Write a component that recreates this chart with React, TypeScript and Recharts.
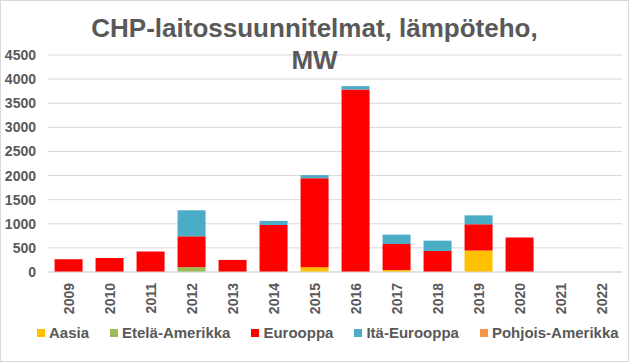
import { Bar, BarChart, CartesianGrid, XAxis, YAxis } from "recharts";

const years = ["2009", "2010", "2011", "2012", "2013", "2014", "2015", "2016", "2017", "2018", "2019", "2020", "2021", "2022"];
const aasia = [0, 0, 0, 0, 0, 0, 100, 0, 40, 0, 445, 0, 0, 0];
const etelaAmerikka = [0, 0, 0, 100, 0, 0, 0, 0, 0, 0, 0, 0, 0, 0];
const eurooppa = [265, 290, 425, 640, 250, 975, 1845, 3785, 540, 435, 545, 715, 0, 0];
const itaEurooppa = [0, 0, 0, 540, 0, 85, 65, 70, 195, 215, 185, 0, 0, 0];
const pohjoisAmerikka = [0, 0, 0, 0, 0, 0, 0, 0, 0, 0, 0, 0, 0, 0];
const yTicks = [0, 500, 1000, 1500, 2000, 2500, 3000, 3500, 4000, 4500];

const series = [
  { key: "aasia", name: "Aasia", color: "#FFC000", values: aasia },
  { key: "etela", name: "Etelä-Amerikka", color: "#9BBB59", values: etelaAmerikka },
  { key: "eurooppa", name: "Eurooppa", color: "#FF0000", values: eurooppa },
  { key: "ita", name: "Itä-Eurooppa", color: "#4BACC6", values: itaEurooppa },
  { key: "pohjois", name: "Pohjois-Amerikka", color: "#F79646", values: pohjoisAmerikka },
];

const data = years.map((year, i) => {
  const row: Record<string, string | number> = { year };
  series.forEach((s) => {
    row[s.key] = s.values[i];
  });
  return row;
});

const textColor = "#595959";
const font = "'Liberation Sans', Arial, sans-serif";

function YearTick({ x, y, payload }: any) {
  return (
    <text
      x={x + 5}
      y={y + 3}
      transform={`rotate(-90, ${x + 5}, ${y + 3})`}
      textAnchor="end"
      fill={textColor}
      fontSize={14}
      fontWeight="bold"
      fontFamily={font}
    >
      {payload.value}
    </text>
  );
}

export default function App() {
  return (
    <div
      style={{
        position: "absolute",
        left: 0,
        top: 0,
        width: 627,
        height: 360,
        border: "1px solid #d9d9d9",
        background: "#fff",
        fontFamily: font,
      }}
    >
      <div
        style={{
          position: "absolute",
          left: 0,
          top: 11,
          width: 627,
          textAlign: "center",
          fontSize: 26,
          fontWeight: "bold",
          color: textColor,
          lineHeight: "32px",
          zIndex: 2,
          pointerEvents: "none",
        }}
      >
        CHP-laitossuunnitelmat, lämpöteho,
        <br />
        MW
      </div>
      <BarChart
        width={627}
        height={360}
        data={data}
        margin={{ top: 54, right: 6, left: 7, bottom: 49 }}
        barCategoryGap="16%"
      >
        <CartesianGrid stroke="#d9d9d9" vertical={false} />
        <XAxis
          dataKey="year"
          interval={0}
          height={40}
          tick={<YearTick />}
          tickLine={false}
          axisLine={{ stroke: "#d9d9d9" }}
        />
        <YAxis
          domain={[0, 4500]}
          ticks={yTicks}
          width={40}
          tickSize={0}
          tickMargin={12}
          axisLine={false}
          tickLine={false}
          tick={{ fill: textColor, fontSize: 14, fontWeight: "bold", fontFamily: font }}
        />
        {series.map((s) => (
          <Bar key={s.key} dataKey={s.key} name={s.name} stackId="a" fill={s.color} isAnimationActive={false} />
        ))}
      </BarChart>
      <div
        style={{
          position: "absolute",
          left: 36,
          top: 323,
          display: "flex",
          gap: 21,
          fontSize: 15,
          fontWeight: "bold",
          color: textColor,
        }}
      >
        {series.map((s) => (
          <div key={s.key} style={{ display: "flex", alignItems: "center" }}>
            <span style={{ width: 8, height: 8, background: s.color, marginRight: 4, display: "inline-block" }} />
            <span>{s.name}</span>
          </div>
        ))}
      </div>
    </div>
  );
}
